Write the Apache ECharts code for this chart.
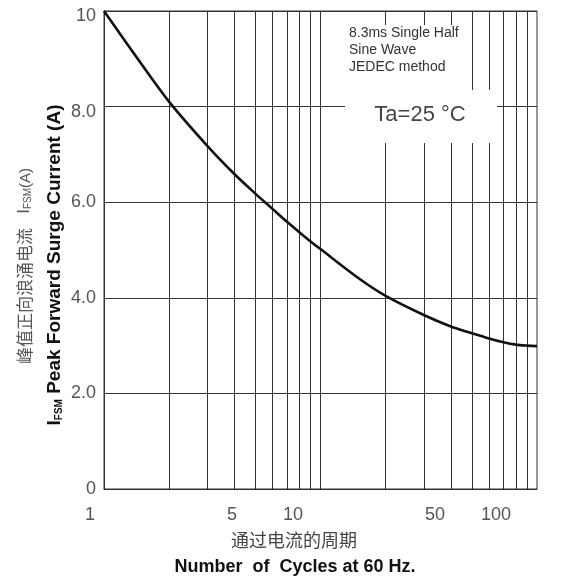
<!DOCTYPE html>
<html>
<head>
<meta charset="utf-8">
<script src="https://cdn.jsdelivr.net/npm/echarts@6/dist/echarts.min.js"></script>
<style>html,body{margin:0;padding:0;background:#fff;}#c{width:563px;height:581px;}</style>
</head>
<body>
<div id="c"></div>
<script>
// Data
const xCycles = [1, 1.5, 2, 3, 4, 5, 6, 7, 8, 9, 10, 15, 20, 30, 40, 50, 60, 70, 80, 90, 100];
const ifsmValues = [10.0, 8.87, 8.1, 7.18, 6.59, 6.18, 5.86, 5.59, 5.37, 5.18, 5.02, 4.41, 4.04, 3.64, 3.4, 3.26, 3.15, 3.07, 3.02, 3.0, 2.99];
const xGridValues = [2, 3, 4, 5, 6, 7, 8, 9, 10, 20, 30, 40, 50, 60, 70, 80, 90];
const xTickLabels = [1, 5, 10, 50, 100];
const yTickValues = [0, 2, 4, 6, 8, 10];
const yTickLabels = ['0', '2.0', '4.0', '6.0', '8.0', '10'];
const noteLines = ['8.3ms Single Half', 'Sine Wave', 'JEDEC method'];
const tempNote = 'Ta=25 °C';
const yTitleCn = '峰值正向浪涌电流';
const yTitleEn = 'Peak Forward Surge Current (A)';
const xTitleCn = '通过电流的周期';
const xTitleEn = 'Number  of  Cycles at 60 Hz.';

const chart = echarts.init(document.getElementById('c'), null, {renderer: 'canvas'});
const lineColor = '#333';
const font = '"Liberation Sans", Arial, sans-serif';

const option = {
  animation: false,
  backgroundColor: '#fff',
  grid: [
    {left: 104, right: 26, top: 11, bottom: 92, show: true, borderColor: lineColor, borderWidth: 1},
    {left: 90, width: 406, top: 11, bottom: 92, show: false}
  ],
  xAxis: [
    {
      type: 'log', logBase: 10, min: 1, max: 100, gridIndex: 0,
      axisLine: {show: true, lineStyle: {color: lineColor, width: 1}},
      axisTick: {show: false}, axisLabel: {show: false},
      splitLine: {show: false}, minorTick: {show: false}
    },
    {
      type: 'log', logBase: 10, min: 1, max: 100, gridIndex: 1,
      axisLine: {show: false}, axisTick: {show: false}, splitLine: {show: false},
      axisLabel: {
        show: true, customValues: xTickLabels, margin: 17,
        color: '#555', fontSize: 18, fontFamily: font,
        formatter: v => String(Math.round(v))
      }
    }
  ],
  yAxis: [
    {
      type: 'value', min: 0, max: 10, interval: 2, gridIndex: 0,
      axisLine: {show: true, lineStyle: {color: lineColor, width: 1}},
      axisTick: {show: false},
      axisLabel: {
        color: '#555', fontSize: 18, fontFamily: font, margin: 8,
        formatter: v => {
          const t = yTickLabels[yTickValues.indexOf(v)];
          return v >= 8 ? '{lo|' + t + '}' : t;
        },
        rich: {lo: {color: '#555', fontSize: 18, fontFamily: font, padding: [11, 0, 0, 0]}}
      },
      splitLine: {show: true, lineStyle: {color: lineColor, width: 1}}
    },
    {type: 'value', min: 0, max: 10, gridIndex: 1, show: false}
  ],
  series: [{
    type: 'line',
    xAxisIndex: 0, yAxisIndex: 0,
    data: xCycles.map((x, i) => [x, ifsmValues[i]]),
    smooth: 0.3,
    showSymbol: false,
    lineStyle: {color: '#111', width: 2.6},
    z: 3,
    markLine: {
      silent: true, symbol: ['none', 'none'], label: {show: false},
      lineStyle: {color: lineColor, width: 1, type: 'solid'},
      emphasis: {disabled: true},
      data: xGridValues.map(v => ({xAxis: v})),
      z: 1
    }
  }],
  graphic: [
    // white masks behind the notes
    {type: 'rect', z: 100, shape: {x: 345, y: 25, width: 122, height: 118}, style: {fill: '#fff'}},
    {type: 'rect', z: 100, shape: {x: 345, y: 90, width: 152, height: 53}, style: {fill: '#fff'}},
    {type: 'text', z: 101, x: 349, y: 33, style: {text: noteLines[0], font: '14px ' + font, fill: '#333', textVerticalAlign: 'middle'}},
    {type: 'text', z: 101, x: 349, y: 50, style: {text: noteLines[1], font: '14px ' + font, fill: '#333', textVerticalAlign: 'middle'}},
    {type: 'text', z: 101, x: 349, y: 67, style: {text: noteLines[2], font: '14px ' + font, fill: '#333', textVerticalAlign: 'middle'}},
    {type: 'text', z: 101, x: 420, y: 115, style: {text: tempNote, font: '22px ' + font, fill: '#444', textAlign: 'center', textVerticalAlign: 'middle'}},
    // y axis titles (rotated)
    {
      type: 'text', z: 101, x: 23, y: 266, rotation: Math.PI / 2,
      style: {
        text: '{cn|' + yTitleCn + '}{sp|   }{i|I}{sub|FSM}{a|(A)}',
        textAlign: 'center', textVerticalAlign: 'middle',
        rich: {
          cn: {font: '17px "Noto Sans CJK SC", sans-serif', fill: '#555', verticalAlign: 'bottom', lineHeight: 20},
          sp: {font: '17px ' + font, fill: '#555', verticalAlign: 'bottom', lineHeight: 20},
          i: {font: '17px ' + font, fill: '#555', verticalAlign: 'bottom', lineHeight: 20},
          sub: {font: '10px ' + font, fill: '#555', verticalAlign: 'bottom', lineHeight: 16},
          a: {font: '15px ' + font, fill: '#555', verticalAlign: 'bottom', lineHeight: 20}
        }
      }
    },
    {
      type: 'text', z: 101, x: 53, y: 265, rotation: Math.PI / 2,
      style: {
        text: '{i|I}{sub|FSM}{b| ' + yTitleEn + '}',
        textAlign: 'center', textVerticalAlign: 'middle',
        rich: {
          i: {font: 'bold 19px ' + font, fill: '#111', verticalAlign: 'bottom', lineHeight: 22},
          sub: {font: 'bold 10px ' + font, fill: '#111', verticalAlign: 'bottom', lineHeight: 18},
          b: {font: 'bold 19px ' + font, fill: '#111', verticalAlign: 'bottom', lineHeight: 22}
        }
      }
    },
    // x axis titles
    {type: 'text', z: 101, x: 294, y: 540, style: {text: xTitleCn, font: '18px "Noto Sans CJK SC", sans-serif', fill: '#444', textAlign: 'center', textVerticalAlign: 'middle'}},
    {type: 'text', z: 101, x: 295, y: 567, style: {text: xTitleEn, font: 'bold 18px ' + font, fill: '#111', textAlign: 'center', textVerticalAlign: 'middle'}}
  ]
};
chart.setOption(option);
</script>
</body>
</html>
